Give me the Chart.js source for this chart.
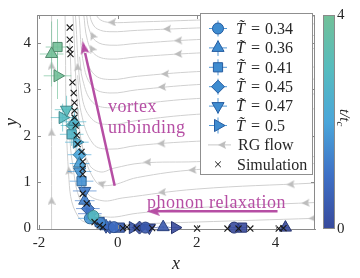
<!DOCTYPE html>
<html><head><meta charset="utf-8">
<script src="https://cdn.jsdelivr.net/npm/chart.js@4"></script>
<style>html,body{margin:0;padding:0;background:#fff}</style>
</head><body><canvas id="c" width="360" height="278"></canvas>
<script>
// ---- tick labels ----
const xTicks = [-2, 0, 2, 4];
const yTicks = [0, 1, 2, 3, 4];
const cbTicks = [0, 4];
const temps = ['0.34', '0.36', '0.41', '0.45', '0.47', '0.5'];

// ---- measured series: x, y, t/t_c, x-error, y-error ----
const t034X = [2.95, 0.70, -0.10, -0.45, -0.71, -0.62];
const t034Y = [0.02, 0.02, 0.03, 0.12, 0.22, 0.27];
const t034T = [0.0, 0.4, 0.9, 1.4, 1.7, 2.9];
const t034EX = [0.15, 0.20, 0.20, 0.25, 0.30, 0.20];
const t034EY = [0.02, 0.03, 0.04, 0.06, 0.10, 0.10];

const t036X = [4.25, 1.15, -0.30, -0.84, -0.97, -1.10, -1.68];
const t036Y = [0.02, 0.03, 0.05, 0.60, 1.40, 2.30, 3.76];
const t036T = [0.0, 0.4, 0.9, 1.3, 1.9, 2.6, 4.0];
const t036EX = [0.10, 0.15, 0.20, 0.25, 0.25, 0.30, 0.30];
const t036EY = [0.02, 0.03, 0.05, 0.10, 0.15, 0.25, 0.70];

const t041X = [3.15, 0.05, -0.46, -0.92, -1.17, -1.53];
const t041Y = [0.02, 0.02, 0.14, 1.02, 2.03, 3.91];
const t041T = [0.0, 0.5, 1.0, 1.6, 2.7, 4.0];
const t041EX = [0.15, 0.20, 0.25, 0.30, 0.30, 0.30];
const t041EY = [0.02, 0.03, 0.06, 0.15, 0.25, 0.60];

const t045X = [0.55, -0.20, -0.76, -0.97, -1.15];
const t045Y = [0.02, 0.03, 0.43, 1.59, 2.22];
const t045T = [0.1, 0.5, 1.1, 2.0, 2.8];
const t045EX = [0.20, 0.20, 0.30, 0.30, 0.30];
const t045EY = [0.02, 0.03, 0.08, 0.15, 0.20];

const t047X = [0.80, -0.30, -0.84, -0.97, -1.30];
const t047Y = [0.02, 0.05, 0.81, 1.23, 2.56];
const t047T = [0.1, 0.5, 1.2, 1.7, 3.0];
const t047EX = [0.20, 0.20, 0.30, 0.30, 0.30];
const t047EY = [0.02, 0.04, 0.10, 0.15, 0.30];

const t050X = [1.45, 0.38, -0.71, -1.04, -1.40, -1.53];
const t050Y = [0.02, 0.02, 0.32, 1.86, 2.39, 3.29];
const t050T = [0.0, 0.3, 0.9, 2.3, 2.9, 4.0];
const t050EX = [0.15, 0.20, 0.30, 0.30, 0.30, 0.35];
const t050EY = [0.02, 0.03, 0.08, 0.20, 0.30, 0.50];

// ---- simulation crosses ----
const simX = [-1.22,-1.22,-1.22,-1.20,-1.15,-1.12,-1.10,-1.10,-1.10,-1.07,-1.04,-1.02,-0.92,-0.89,-0.89,-0.89,-0.89,-0.79,-0.59,-0.46,-0.38,0.13,0.23,0.48,0.87,2.01,2.78,3.06,3.36,4.08,4.20];
const simY = [4.33,4.07,3.86,3.76,3.15,2.92,2.71,2.54,2.39,2.22,2.01,1.82,1.65,1.44,1.29,1.17,0.75,0.54,0.14,0.07,0.03,0.01,0.03,0.01,0.01,0.00,0.00,0.00,0.00,0.00,0.01];

// ---- RG flow streamlines ----
const flowLines = [
  [[5,4.57],[2,4.49],[0.5,4.45],[-0.2,4.44],[-0.45,4.5],[-0.58,4.65]],
  [[5,4.41],[2,4.32],[0.5,4.27],[-0.2,4.24],[-0.52,4.3],[-0.66,4.45],[-0.72,4.65]],
  [[5,4.16],[2,4.07],[0.5,3.99],[-0.2,3.95],[-0.56,4.04],[-0.73,4.3],[-0.8,4.65]],
  [[5,3.88],[2,3.78],[0.5,3.7],[-0.2,3.65],[-0.58,3.75],[-0.77,4.05],[-0.87,4.65]],
  [[5,3.48],[2,3.38],[0.5,3.28],[-0.2,3.21],[-0.6,3.32],[-0.83,3.75],[-0.9,4.1]],
  [[5,3.22],[2,3.1],[0.5,2.99],[-0.2,2.92],[-0.62,3.04],[-0.86,3.5],[-0.99,4.65]],
  [[5,2.9],[2,2.8],[0.5,2.68],[-0.2,2.6],[-0.64,2.72],[-0.89,3.2],[-0.97,3.7]],
  [[5,2.58],[2,2.46],[0.5,2.33],[-0.2,2.24],[-0.66,2.36],[-0.92,2.9],[-1.08,4.65]],
  [[5,1.98],[2,1.88],[0.5,1.79],[-0.2,1.71],[-0.62,1.82],[-0.93,2.5],[-1.02,3.3]],
  [[5,1.55],[2,1.44],[0.6,1.41],[-0.1,1.3],[-0.45,1.22],[-0.74,1.4],[-0.97,2.15],[-1.14,4.65]],
  [[5,1.4],[2,1.27],[0.5,1.1],[-0.2,0.93],[-0.55,1.0],[-0.9,1.75],[-1.02,2.6]],
  [[5,0.98],[2,0.85],[0.13,0.66],[-0.4,0.6],[-0.8,0.8],[-1.08,1.7],[-1.22,4.0]],
  [[5,0.56],[2,0.45],[0.5,0.33],[-0.3,0.25],[-0.85,0.45],[-1.15,1.4],[-1.25,2.6]],
  [[5,0.22],[2,0.14],[0.5,0.1],[-0.4,0.08],[-1.0,0.25],[-1.25,1.2],[-1.34,4.65]],
  [[-1.68,-0.05],[-1.68,4.65]]
];
const flowArrowX = [-0.15, 1.25, 1.53, 1.53, -0.66, -0.64, 1.20, 1.12, -1.02, -1.68, -1.68, -1.68, -1.24, -0.42, 0.75, 1.10, 1.89, 1.12, 4.38, 4.76, 4.94];
const flowArrowY = [4.44, 4.30, 4.05, 3.76, 3.88, 4.16, 3.33, 3.05, 3.48, 3.51, 2.07, 0.60, 1.25, 0.97, 1.43, 1.83, 1.26, 0.78, 0.95, 0.55, 0.22];
const flowArrowDir = [-90, -92, -92, -92, -30, -25, -92, -92, -5, 0, 0, 0, -5, -70, -90, -92, -93, -94, -93, -93, -93];

// ---- annotation arrows ----
const unbindX = [-0.08, -0.83];
const unbindY = [0.92, 3.78];
const unbindHeadX = [-0.86];
const unbindHeadY = [3.90];
const relaxX = [4.05, 0.97];
const relaxY = [0.37, 0.37];
const relaxHeadX = [0.90];
const relaxHeadY = [0.37];

// ---------------------------------------------------------------
const FONT = "'Liberation Serif', 'DejaVu Serif', serif";
const TXT = '#262626';
const AXC = '#8a8a8a';
const MAG = '#b64ea4';

const cmapStops = [[0,[56,74,156]],[0.25,[62,112,198]],[0.5,[74,166,218]],[0.75,[86,188,190]],[1,[114,192,152]]];
function cmapRGB(t){
  const u = Math.max(0, Math.min(1, t / 4));
  for (let i = 1; i < cmapStops.length; i++){
    if (u <= cmapStops[i][0]){
      const a = cmapStops[i-1], b = cmapStops[i];
      const f = (u - a[0]) / (b[0] - a[0]);
      return a[1].map((v, k) => Math.round(v + (b[1][k] - v) * f));
    }
  }
  return cmapStops[cmapStops.length-1][1];
}
function cmap(t, a){ const c = cmapRGB(t); return `rgba(${c[0]},${c[1]},${c[2]},${a})`; }
function cmapDark(t){ const c = cmapRGB(t).map(v => Math.round(v * 0.72)); return `rgb(${c[0]},${c[1]},${c[2]})`; }

function arrowImg(w, h, color){
  const c = document.createElement('canvas'); c.width = w; c.height = h;
  const g = c.getContext('2d'); g.fillStyle = color;
  g.beginPath(); g.moveTo(w/2, 0); g.lineTo(w, h); g.lineTo(w/2, h*0.8); g.lineTo(0, h); g.closePath(); g.fill();
  return c;
}
const grayHead = arrowImg(8, 8, '#bdbdbd');
const magHead = arrowImg(9, 13, MAG);

const seriesDefs = [
  {x:t034X, y:t034Y, t:t034T, ex:t034EX, ey:t034EY, style:'circle', rot:0, r:5.5},
  {x:t036X, y:t036Y, t:t036T, ex:t036EX, ey:t036EY, style:'triangle', rot:0, r:7},
  {x:t041X, y:t041Y, t:t041T, ex:t041EX, ey:t041EY, style:'rect', rot:0, r:6.5},
  {x:t045X, y:t045Y, t:t045T, ex:t045EX, ey:t045EY, style:'rectRot', rot:0, r:6.5},
  {x:t047X, y:t047Y, t:t047T, ex:t047EX, ey:t047EY, style:'triangle', rot:180, r:7},
  {x:t050X, y:t050Y, t:t050T, ex:t050EX, ey:t050EY, style:'triangle', rot:90, r:7}
];

const datasets = [];
datasets.push({
  label: 'Simulation', order: 0,
  data: simX.map((v, i) => ({x: v, y: simY[i]})),
  pointStyle: 'crossRot', pointRadius: 4.3, pointBorderColor: '#1a1a1a', pointBorderWidth: 1.1,
  showLine: false, clip: false
});
seriesDefs.forEach((s, k) => {
  datasets.push({
    label: 'T̃ = ' + temps[k], order: 1,
    data: s.x.map((v, i) => ({x: v, y: s.y[i]})),
    pointStyle: s.style, pointRotation: s.rot, pointRadius: s.r,
    pointBackgroundColor: s.t.map(t => cmap(t, 0.9)),
    pointBorderColor: s.t.map(t => cmapDark(t)), pointBorderWidth: 1,
    showLine: false, clip: false,
    errX: s.ex, errY: s.ey, errT: s.t, legendStyle: s.style, legendRot: s.rot, legendR: s.r
  });
});
datasets.push({ order: 5, data: unbindX.map((v,i)=>({x:v,y:unbindY[i]})), showLine: true, borderColor: MAG, borderWidth: 2.5, pointRadius: 0 });
datasets.push({ order: 5, data: unbindHeadX.map((v,i)=>({x:v,y:unbindHeadY[i]})), pointStyle: magHead, pointRadius: 4, pointRotation: -12, showLine: false });
datasets.push({ order: 5, data: relaxX.map((v,i)=>({x:v,y:relaxY[i]})), showLine: true, borderColor: MAG, borderWidth: 2.5, pointRadius: 0 });
datasets.push({ order: 5, data: relaxHeadX.map((v,i)=>({x:v,y:relaxHeadY[i]})), pointStyle: magHead, pointRadius: 4, pointRotation: -90, showLine: false });
datasets.push({ label: 'RG flow', order: 8, data: flowArrowX.map((v,i)=>({x:v,y:flowArrowY[i]})), pointStyle: grayHead, pointRadius: 4, pointRotation: flowArrowDir, showLine: false });
flowLines.forEach(line => datasets.push({
  order: 10, data: line.map(p => ({x: p[0], y: p[1]})), showLine: true,
  borderColor: '#d0d0d0', borderWidth: 1, pointRadius: 0, tension: 0.4
}));

const errorBars = {
  id: 'errorBars',
  beforeDatasetDraw(chart, args){
    const ds = chart.data.datasets[args.index];
    if (!ds.errX) return;
    const xs = chart.scales.x, ys = chart.scales.y, ctx = chart.ctx, a = chart.chartArea;
    ctx.save();
    ctx.beginPath(); ctx.rect(a.left, a.top, a.right - a.left, a.bottom - a.top + 6); ctx.clip();
    ctx.lineWidth = 1;
    ds.data.forEach((p, i) => {
      ctx.strokeStyle = cmap(ds.errT[i], 0.65);
      const px = xs.getPixelForValue(p.x), py = ys.getPixelForValue(p.y);
      const x0 = xs.getPixelForValue(p.x - ds.errX[i]), x1 = xs.getPixelForValue(p.x + ds.errX[i]);
      const y0 = ys.getPixelForValue(p.y - ds.errY[i]), y1 = ys.getPixelForValue(p.y + ds.errY[i]);
      ctx.beginPath();
      ctx.moveTo(x0, py); ctx.lineTo(x1, py);
      ctx.moveTo(px, y0); ctx.lineTo(px, y1);
      ctx.stroke();
    });
    ctx.restore();
  }
};

function drawMarker(ctx, style, rot, r, x, y){
  if (Chart.helpers && Chart.helpers.drawPoint){
    Chart.helpers.drawPoint(ctx, {pointStyle: style, rotation: rot, radius: r, borderWidth: 1}, x, y);
  } else {
    ctx.beginPath(); ctx.arc(x, y, r, 0, Math.PI*2); ctx.fill(); ctx.stroke();
  }
}

const decor = {
  id: 'decor',
  afterDatasetsDraw(chart){
    const ctx = chart.ctx, a = chart.chartArea, xs = chart.scales.x, ys = chart.scales.y;
    ctx.save();
    // box + inward ticks
    ctx.strokeStyle = AXC; ctx.lineWidth = 1;
    ctx.beginPath();
    ctx.moveTo(a.left, a.top + 0.5); ctx.lineTo(a.right, a.top + 0.5);
    ctx.moveTo(a.right - 0.5, a.top); ctx.lineTo(a.right - 0.5, a.bottom);
    xTicks.forEach(v => { const p = Math.round(xs.getPixelForValue(v)) + 0.5;
      ctx.moveTo(p, a.bottom); ctx.lineTo(p, a.bottom - 4); ctx.moveTo(p, a.top); ctx.lineTo(p, a.top + 4); });
    yTicks.forEach(v => { const p = Math.round(ys.getPixelForValue(v)) + 0.5;
      ctx.moveTo(a.left, p); ctx.lineTo(a.left + 4, p); ctx.moveTo(a.right, p); ctx.lineTo(a.right - 4, p); });
    ctx.stroke();
    // annotation text
    ctx.fillStyle = MAG; ctx.font = '18px ' + FONT; ctx.textBaseline = 'alphabetic'; ctx.textAlign = 'left';
    if ('letterSpacing' in ctx) ctx.letterSpacing = '0.5px';
    ctx.fillText('vortex', xs.getPixelForValue(-0.25), ys.getPixelForValue(2.50));
    ctx.fillText('unbinding', xs.getPixelForValue(-0.25), ys.getPixelForValue(2.05));
    ctx.fillText('phonon relaxation', xs.getPixelForValue(0.74), ys.getPixelForValue(0.45));
    if ('letterSpacing' in ctx) ctx.letterSpacing = '0px';
    // legend
    const L = 200, T = 13, R = 313, B = 175;
    ctx.fillStyle = '#fff'; ctx.fillRect(L, T, R - L, B - T);
    ctx.strokeStyle = '#8f8f8f'; ctx.strokeRect(L + 0.5, T + 0.5, R - L - 1, B - T - 1);
    const rowY = i => 28.5 + i * 19.4;
    const mx = 218;
    const markerSets = chart.data.datasets.filter(ds => ds.errX);
    markerSets.forEach((ds, i) => {
      const y = rowY(i);
      ctx.strokeStyle = 'rgba(62,140,208,0.9)'; ctx.lineWidth = 1;
      ctx.beginPath(); ctx.moveTo(mx - 9, y); ctx.lineTo(mx + 9, y); ctx.moveTo(mx, y - 8); ctx.lineTo(mx, y + 8); ctx.stroke();
      ctx.fillStyle = 'rgb(62,140,208)'; ctx.strokeStyle = 'rgb(38,92,160)';
      drawMarker(ctx, ds.legendStyle, ds.legendRot, ds.legendR, mx, y);
      ctx.fillStyle = TXT; ctx.textBaseline = 'middle';
      ctx.font = 'italic 16px ' + FONT; ctx.fillText('T̃', 236, y + 1);
      ctx.font = '16px ' + FONT; ctx.fillText('=', 251, y + 1);
      ctx.fillText(temps[i], 265, y + 1);
    });
    // RG flow entry
    let y = rowY(6);
    ctx.strokeStyle = '#c8c8c8'; ctx.lineWidth = 1;
    ctx.beginPath(); ctx.moveTo(208, y); ctx.lineTo(231, y); ctx.stroke();
    ctx.save(); ctx.translate(222, y); ctx.rotate(-Math.PI / 2); ctx.drawImage(grayHead, -4, -4); ctx.restore();
    ctx.fillStyle = TXT; ctx.font = '16px ' + FONT; ctx.textBaseline = 'middle';
    ctx.fillText('RG flow', 238, y + 1);
    // Simulation entry
    y = rowY(7);
    ctx.strokeStyle = '#1a1a1a'; ctx.lineWidth = 1;
    drawMarker(ctx, 'crossRot', 0, 4, mx, y);
    ctx.fillText('Simulation', 237, y + 1);
    ctx.restore();
  },
  afterDraw(chart){
    const ctx = chart.ctx, a = chart.chartArea;
    ctx.save();
    const cx0 = 323, cx1 = 335;
    const g = ctx.createLinearGradient(0, a.bottom, 0, a.top);
    cmapStops.forEach(s => g.addColorStop(s[0], `rgb(${s[1].join(',')})`));
    ctx.fillStyle = g; ctx.fillRect(cx0, a.top, cx1 - cx0, a.bottom - a.top);
    ctx.strokeStyle = AXC; ctx.lineWidth = 1;
    ctx.strokeRect(cx0 + 0.5, a.top + 0.5, cx1 - cx0 - 1, a.bottom - a.top - 1);
    ctx.fillStyle = TXT; ctx.font = '15px ' + FONT; ctx.textAlign = 'left'; ctx.textBaseline = 'middle';
    cbTicks.forEach(v => {
      const py = a.bottom - (v - cbTicks[0]) / (cbTicks[cbTicks.length-1] - cbTicks[0]) * (a.bottom - a.top);
      ctx.fillText(String(v), 337, py);
    });
    ctx.translate(344, 109); ctx.rotate(Math.PI / 2);
    ctx.font = 'italic 15px ' + FONT; ctx.textBaseline = 'middle';
    ctx.fillText('t/t', 0, 0);
    const w = ctx.measureText('t/t').width;
    ctx.font = 'italic 11px ' + FONT; ctx.fillText('c', w, 4);
    ctx.restore();
  }
};

new Chart(document.getElementById('c'), {
  type: 'scatter',
  data: { datasets },
  options: {
    responsive: false, animation: false, devicePixelRatio: 1, events: [],
    layout: { padding: { top: 9, right: 45, left: 0, bottom: 0 } },
    plugins: { legend: { display: false }, tooltip: { enabled: false } },
    scales: {
      x: {
        type: 'linear', min: -2.05, max: 5,
        afterFit: s => { s.height = 49; },
        afterBuildTicks: s => { s.ticks = xTicks.map(v => ({value: v})); },
        ticks: { font: { family: FONT, size: 15 }, color: TXT, padding: 5, maxRotation: 0, autoSkip: false },
        grid: { display: false, drawTicks: false },
        border: { display: true, color: AXC },
        title: { display: true, text: 'x', color: TXT, font: { family: FONT, size: 18, style: 'italic' }, padding: { top: 0, bottom: 3 } }
      },
      y: {
        type: 'linear', min: -0.01, max: 4.6,
        afterFit: s => { s.width = 37; },
        afterBuildTicks: s => { s.ticks = yTicks.map(v => ({value: v})); },
        ticks: { font: { family: FONT, size: 15 }, color: TXT, padding: 6, autoSkip: false },
        grid: { display: false, drawTicks: false },
        border: { display: true, color: AXC },
        title: { display: true, text: 'y', color: TXT, font: { family: FONT, size: 18, style: 'italic' }, padding: { top: 1, bottom: 0 } }
      }
    }
  },
  plugins: [errorBars, decor]
});
</script>
</body></html>
